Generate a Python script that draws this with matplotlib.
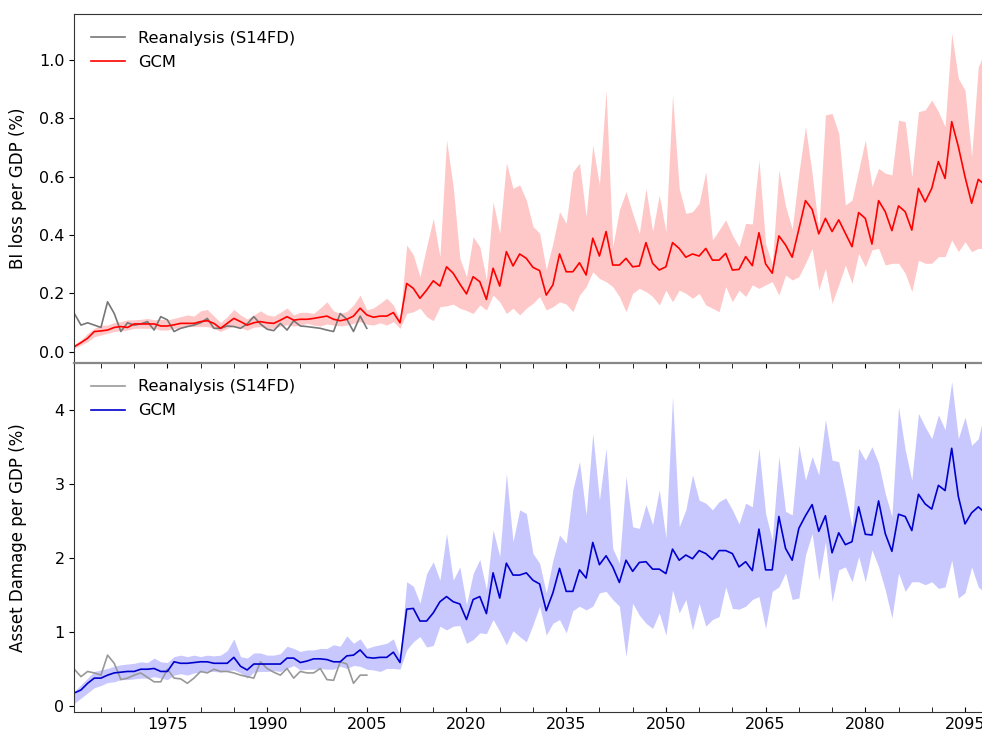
import numpy as np
import matplotlib
matplotlib.use("Agg")
import matplotlib.pyplot as plt
from matplotlib.ticker import MultipleLocator

# years of the GCM runs (shown part) and of the reanalysis
years = np.arange(1961, 2099)
years_re = np.arange(1961, 2006)

# BI loss per GDP (%) - GCM median, lower / upper range
bi_gcm = [0.017, 0.031, 0.046, 0.069, 0.071, 0.074, 0.083, 0.086, 0.083, 0.095,
          0.095, 0.095, 0.095, 0.088, 0.088, 0.092, 0.097, 0.097, 0.097, 0.103,
          0.106, 0.097, 0.080, 0.097, 0.114, 0.103, 0.091, 0.099, 0.103, 0.099,
          0.097, 0.108, 0.120, 0.108, 0.111, 0.111, 0.114, 0.118, 0.122, 0.111,
          0.106, 0.111, 0.122, 0.149, 0.126, 0.118, 0.122, 0.122, 0.134, 0.099,
          0.234, 0.217, 0.183, 0.211, 0.243, 0.225, 0.291, 0.269, 0.232, 0.198,
          0.257, 0.240, 0.179, 0.286, 0.225, 0.343, 0.294, 0.335, 0.320, 0.289,
          0.278, 0.194, 0.229, 0.335, 0.274, 0.274, 0.305, 0.263, 0.389, 0.328,
          0.412, 0.297, 0.297, 0.320, 0.291, 0.294, 0.374, 0.303, 0.280, 0.291,
          0.374, 0.354, 0.324, 0.335, 0.328, 0.354, 0.314, 0.314, 0.337, 0.280,
          0.282, 0.326, 0.295, 0.408, 0.301, 0.269, 0.397, 0.366, 0.324, 0.420,
          0.518, 0.488, 0.404, 0.457, 0.412, 0.452, 0.406, 0.360, 0.477, 0.457,
          0.369, 0.518, 0.480, 0.415, 0.500, 0.480, 0.417, 0.560, 0.514, 0.560,
          0.652, 0.594, 0.789, 0.703, 0.600, 0.509, 0.591, 0.572]
bi_hi = [0.025, 0.040, 0.063, 0.080, 0.091, 0.091, 0.100, 0.103, 0.109, 0.109,
         0.111, 0.114, 0.109, 0.111, 0.109, 0.114, 0.120, 0.126, 0.122, 0.140,
         0.145, 0.122, 0.100, 0.120, 0.145, 0.126, 0.112, 0.126, 0.140, 0.126,
         0.122, 0.135, 0.150, 0.126, 0.135, 0.135, 0.131, 0.150, 0.171, 0.140,
         0.131, 0.138, 0.160, 0.194, 0.143, 0.150, 0.166, 0.183, 0.160, 0.109,
         0.366, 0.332, 0.257, 0.360, 0.457, 0.326, 0.726, 0.566, 0.320, 0.257,
         0.394, 0.360, 0.246, 0.514, 0.406, 0.648, 0.560, 0.572, 0.520, 0.429,
         0.406, 0.282, 0.372, 0.480, 0.440, 0.617, 0.646, 0.463, 0.709, 0.572,
         0.897, 0.360, 0.486, 0.549, 0.474, 0.406, 0.560, 0.412, 0.537, 0.412,
         0.880, 0.560, 0.474, 0.480, 0.509, 0.617, 0.383, 0.417, 0.452, 0.400,
         0.360, 0.440, 0.438, 0.657, 0.370, 0.300, 0.623, 0.500, 0.420, 0.611,
         0.772, 0.611, 0.417, 0.812, 0.817, 0.749, 0.503, 0.520, 0.623, 0.726,
         0.566, 0.629, 0.612, 0.606, 0.794, 0.789, 0.600, 0.823, 0.829, 0.863,
         0.823, 0.772, 1.092, 0.937, 0.897, 0.669, 0.977, 1.030]
bi_lo = [0.011, 0.023, 0.034, 0.051, 0.057, 0.063, 0.069, 0.072, 0.074, 0.080,
         0.080, 0.080, 0.080, 0.074, 0.074, 0.080, 0.080, 0.086, 0.086, 0.086,
         0.086, 0.080, 0.069, 0.080, 0.088, 0.082, 0.074, 0.084, 0.086, 0.080,
         0.080, 0.088, 0.092, 0.088, 0.091, 0.097, 0.091, 0.088, 0.095, 0.091,
         0.088, 0.091, 0.097, 0.103, 0.094, 0.091, 0.099, 0.091, 0.103, 0.080,
         0.131, 0.137, 0.149, 0.120, 0.106, 0.154, 0.157, 0.163, 0.149, 0.141,
         0.131, 0.160, 0.143, 0.194, 0.171, 0.131, 0.149, 0.126, 0.149, 0.166,
         0.189, 0.143, 0.154, 0.171, 0.163, 0.137, 0.194, 0.223, 0.274, 0.251,
         0.240, 0.223, 0.189, 0.137, 0.200, 0.217, 0.206, 0.189, 0.160, 0.211,
         0.171, 0.211, 0.200, 0.183, 0.200, 0.160, 0.149, 0.137, 0.223, 0.171,
         0.211, 0.189, 0.229, 0.217, 0.229, 0.240, 0.194, 0.263, 0.246, 0.257,
         0.303, 0.354, 0.211, 0.286, 0.166, 0.229, 0.297, 0.234, 0.337, 0.291,
         0.349, 0.354, 0.297, 0.303, 0.303, 0.269, 0.206, 0.314, 0.303, 0.303,
         0.326, 0.326, 0.383, 0.343, 0.377, 0.343, 0.354, 0.354]
bi_re = [0.131, 0.091, 0.099, 0.091, 0.083, 0.171, 0.131, 0.069, 0.099, 0.091,
         0.095, 0.103, 0.074, 0.120, 0.109, 0.069, 0.080, 0.086, 0.091, 0.099,
         0.114, 0.080, 0.080, 0.088, 0.086, 0.080, 0.095, 0.120, 0.095, 0.077,
         0.072, 0.097, 0.074, 0.106, 0.088, 0.086, 0.083, 0.080, 0.074, 0.069,
         0.131, 0.111, 0.069, 0.122, 0.080]

# Asset damage per GDP (%)
ad_gcm = [0.18, 0.22, 0.31, 0.38, 0.38, 0.42, 0.45, 0.46, 0.47, 0.47,
          0.50, 0.50, 0.51, 0.47, 0.47, 0.60, 0.58, 0.58, 0.59, 0.60,
          0.60, 0.58, 0.58, 0.58, 0.66, 0.54, 0.49, 0.57, 0.57, 0.57,
          0.57, 0.57, 0.65, 0.65, 0.59, 0.61, 0.64, 0.64, 0.63, 0.60,
          0.60, 0.68, 0.69, 0.76, 0.66, 0.65, 0.66, 0.66, 0.73, 0.59,
          1.31, 1.32, 1.15, 1.15, 1.26, 1.41, 1.48, 1.41, 1.38, 1.17,
          1.44, 1.48, 1.25, 1.80, 1.46, 1.93, 1.77, 1.77, 1.80, 1.70,
          1.65, 1.29, 1.53, 1.86, 1.55, 1.55, 1.84, 1.73, 2.21, 1.91,
          2.03, 1.88, 1.67, 1.97, 1.82, 1.94, 1.95, 1.85, 1.85, 1.79,
          2.12, 1.97, 2.04, 1.99, 2.10, 2.06, 1.98, 2.10, 2.10, 2.06,
          1.88, 1.95, 1.83, 2.39, 1.84, 1.84, 2.56, 2.13, 1.97, 2.40,
          2.57, 2.72, 2.36, 2.57, 2.07, 2.34, 2.18, 2.22, 2.69, 2.32,
          2.31, 2.77, 2.33, 2.09, 2.59, 2.56, 2.37, 2.86, 2.73, 2.66,
          2.98, 2.91, 3.48, 2.83, 2.46, 2.61, 2.69, 2.61]
ad_hi = [0.20, 0.29, 0.38, 0.47, 0.49, 0.51, 0.54, 0.56, 0.57, 0.58,
         0.60, 0.59, 0.65, 0.60, 0.59, 0.67, 0.69, 0.67, 0.69, 0.67,
         0.69, 0.68, 0.69, 0.75, 0.91, 0.67, 0.65, 0.72, 0.72, 0.69,
         0.69, 0.71, 0.81, 0.78, 0.74, 0.76, 0.76, 0.78, 0.78, 0.83,
         0.81, 0.95, 0.85, 0.91, 0.78, 0.81, 0.83, 0.85, 0.91, 0.67,
         1.68, 1.62, 1.39, 1.79, 1.95, 1.70, 2.33, 1.70, 1.88, 1.37,
         1.79, 1.98, 1.57, 2.38, 2.02, 3.14, 2.22, 2.65, 2.60, 2.06,
         1.93, 1.53, 1.97, 2.31, 2.20, 2.92, 3.30, 2.58, 3.68, 2.78,
         3.48, 2.13, 1.93, 3.10, 2.42, 2.40, 2.72, 2.45, 2.92, 2.27,
         4.18, 2.42, 2.65, 3.12, 2.78, 2.74, 2.65, 2.76, 2.81, 2.65,
         2.46, 2.74, 2.69, 3.48, 2.60, 2.24, 3.37, 2.63, 2.58, 3.52,
         3.05, 3.37, 3.12, 3.87, 3.32, 3.30, 2.87, 2.42, 3.48, 3.32,
         3.50, 3.28, 2.87, 2.56, 4.04, 3.46, 3.05, 3.95, 3.77, 3.61,
         3.93, 3.73, 4.38, 3.61, 3.90, 3.52, 3.61, 4.00]
ad_lo = [0.04, 0.11, 0.18, 0.25, 0.28, 0.32, 0.33, 0.36, 0.36, 0.37,
         0.38, 0.38, 0.40, 0.38, 0.36, 0.42, 0.44, 0.42, 0.45, 0.46,
         0.47, 0.47, 0.46, 0.48, 0.49, 0.45, 0.38, 0.46, 0.47, 0.47,
         0.48, 0.47, 0.51, 0.55, 0.49, 0.50, 0.50, 0.51, 0.50, 0.50,
         0.54, 0.51, 0.55, 0.54, 0.50, 0.49, 0.47, 0.51, 0.51, 0.50,
         0.76, 0.87, 0.94, 0.80, 0.82, 1.08, 1.03, 1.08, 1.09, 0.85,
         0.90, 0.99, 0.98, 1.17, 1.01, 0.83, 1.02, 0.94, 0.87, 1.10,
         1.35, 0.96, 1.12, 1.17, 0.99, 1.29, 1.35, 1.30, 1.35, 1.53,
         1.55, 1.44, 1.35, 0.67, 1.39, 1.23, 1.12, 1.05, 1.26, 0.96,
         1.57, 1.26, 1.44, 1.03, 1.39, 1.08, 1.17, 1.21, 1.61, 1.32,
         1.31, 1.35, 1.44, 1.48, 1.05, 1.55, 1.61, 1.80, 1.44, 1.46,
         2.04, 2.33, 1.70, 2.22, 1.41, 1.84, 1.88, 1.68, 2.02, 1.68,
         2.11, 1.88, 1.57, 1.19, 1.80, 1.55, 1.68, 1.68, 1.64, 1.68,
         1.59, 1.61, 1.97, 1.46, 1.53, 1.88, 1.61, 1.53]
ad_re = [0.50, 0.40, 0.47, 0.45, 0.42, 0.69, 0.58, 0.36, 0.38, 0.42,
         0.45, 0.39, 0.33, 0.33, 0.50, 0.38, 0.37, 0.31, 0.38, 0.47,
         0.45, 0.50, 0.47, 0.47, 0.45, 0.42, 0.40, 0.38, 0.60, 0.51,
         0.46, 0.42, 0.51, 0.38, 0.47, 0.45, 0.45, 0.51, 0.36, 0.35,
         0.60, 0.57, 0.31, 0.42, 0.42]

fig = plt.figure(figsize=(9.82, 7.31), dpi=100)
ax1 = fig.add_axes([0.0757, 0.5034, 0.93, 0.477])
ax2 = fig.add_axes([0.0757, 0.0264, 0.93, 0.477], sharex=ax1)

# top: BI loss
ax1.fill_between(years, bi_lo, bi_hi, color="#ffc8c8", lw=0)
ax1.plot(years_re, bi_re, color="#777777", lw=1.2, label="Reanalysis (S14FD)")
ax1.plot(years, bi_gcm, color="red", lw=1.2, label="GCM")
ax1.set_ylim(-0.039, 1.157)
ax1.yaxis.set_major_locator(MultipleLocator(0.2))
ax1.set_ylabel("BI loss per GDP (%)", fontsize=12)
ax1.tick_params(axis="x", which="both", bottom=False, labelbottom=False)

# bottom: asset damage
ax2.fill_between(years, ad_lo, ad_hi, color="#c8c8ff", lw=0)
ax2.plot(years_re, ad_re, color="#999999", lw=1.2, label="Reanalysis (S14FD)")
ax2.plot(years, ad_gcm, color="#0000cc", lw=1.2, label="GCM")
ax2.set_ylim(-0.073, 4.63)
ax2.yaxis.set_major_locator(MultipleLocator(1))
ax2.set_ylabel("Asset Damage per GDP (%)", fontsize=12)

ax2.set_xlim(1961, 2098.4)
ax2.set_xticks(np.arange(1975, 2100, 15))
ax2.xaxis.set_minor_locator(MultipleLocator(5))
ax2.tick_params(axis="x", which="both", direction="in", top=True, length=3.5)

for ax in (ax1, ax2):
    ax.tick_params(labelsize=11.5)
    ax.legend(loc="upper left", frameon=False, fontsize=11.7,
              borderaxespad=0.6, handlelength=2.1, labelspacing=0.55)
    for s in ax.spines.values():
        s.set_color("#333333")
    ax.yaxis.set_label_coords(-0.052, 0.5)

ax1.spines["bottom"].set_color("#888888")
ax2.spines["top"].set_color("#888888")
ax2.spines["top"].set_linewidth(1.6)

plt.savefig("out.png", dpi=100)
